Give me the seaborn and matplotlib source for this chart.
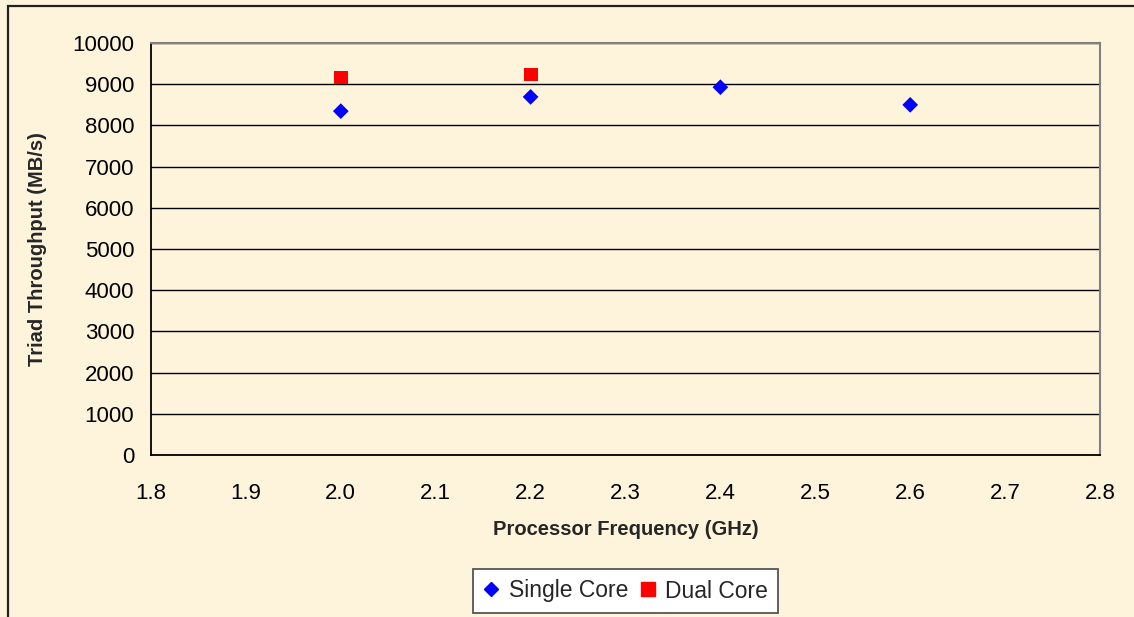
import matplotlib
matplotlib.use("Agg")
import matplotlib.pyplot as plt
from matplotlib.patches import Rectangle
import seaborn as sns
import pandas as pd

single_freq = [2.0, 2.2, 2.4, 2.6]
single_mbps = [8346, 8692, 8927, 8499]
dual_freq = [2.0, 2.2]
dual_mbps = [9162, 9235]
x_ticks = [1.8, 1.9, 2.0, 2.1, 2.2, 2.3, 2.4, 2.5, 2.6, 2.7, 2.8]
y_ticks = list(range(0, 10001, 1000))

df = pd.DataFrame({
    "freq": single_freq + dual_freq,
    "mbps": single_mbps + dual_mbps,
    "series": ["Single Core"] * len(single_freq) + ["Dual Core"] * len(dual_freq),
})

sns.set_style("white")
plt.rcParams["font.family"] = ["Liberation Sans", "DejaVu Sans"]

bg = "#FDF4DB"
fig = plt.figure(figsize=(11.34, 6.17), dpi=100, facecolor=bg)
ax = fig.add_axes([151 / 1134, 1 - 455 / 617, (1100 - 151) / 1134, (455 - 43) / 617])
ax.set_facecolor(bg)

# outer chart frame (right and bottom edges fall outside the canvas)
fig.patches.append(Rectangle((8 / 1134, -0.05), 1.2, 1 - 6 / 617 + 0.05,
                             transform=fig.transFigure, fill=False,
                             edgecolor="#222222", linewidth=1.6))

sns.scatterplot(data=df, x="freq", y="mbps", hue="series", style="series", size="series",
                palette={"Single Core": "#0000FF", "Dual Core": "#FF0000"},
                markers={"Single Core": "D", "Dual Core": "s"},
                sizes={"Single Core": 64, "Dual Core": 100},
                edgecolor="none", ax=ax, legend=False, zorder=3)

ax.set_xlim(1.8, 2.8)
ax.set_ylim(0, 10000)
ax.set_xticks(x_ticks)
ax.set_xticklabels([f"{v:.1f}" for v in x_ticks])
ax.set_yticks(y_ticks)
ax.yaxis.grid(True, color="black", linewidth=1.0)
ax.set_axisbelow(True)
for side in ("top", "right"):
    ax.spines[side].set_color("#808080")
    ax.spines[side].set_linewidth(1.5)
    ax.spines[side].set_zorder(2.5)
for side in ("left", "bottom"):
    ax.spines[side].set_color("black")
    ax.spines[side].set_linewidth(1.3)
ax.tick_params(axis="both", direction="out", length=7, width=1, color="black",
               labelsize=16, labelcolor="black")
ax.tick_params(axis="y", pad=5)
ax.tick_params(axis="x", pad=13)
ax.set_xlabel("Processor Frequency (GHz)", fontsize=14.5, fontweight="bold", labelpad=12)
ax.set_ylabel("Triad Throughput (MB/s)", fontsize=14.5, fontweight="bold", labelpad=18)

h1 = plt.Line2D([], [], marker="D", color="#0000FF", linestyle="none", markersize=7.5)
h2 = plt.Line2D([], [], marker="s", color="#FF0000", linestyle="none", markersize=10)
leg = fig.legend([h1, h2], ["Single Core", "Dual Core"], loc="center",
                 bbox_to_anchor=(625.5 / 1134, 1 - 591 / 617), ncol=2, frameon=True,
                 fancybox=False, edgecolor="#555555", facecolor="white", framealpha=1,
                 fontsize=16.5, handlelength=0.7, handletextpad=0.4, columnspacing=0.5,
                 borderpad=0.45, borderaxespad=0)
leg.get_frame().set_linewidth(1.3)

fig.savefig("out.png", dpi=100, facecolor=bg)
